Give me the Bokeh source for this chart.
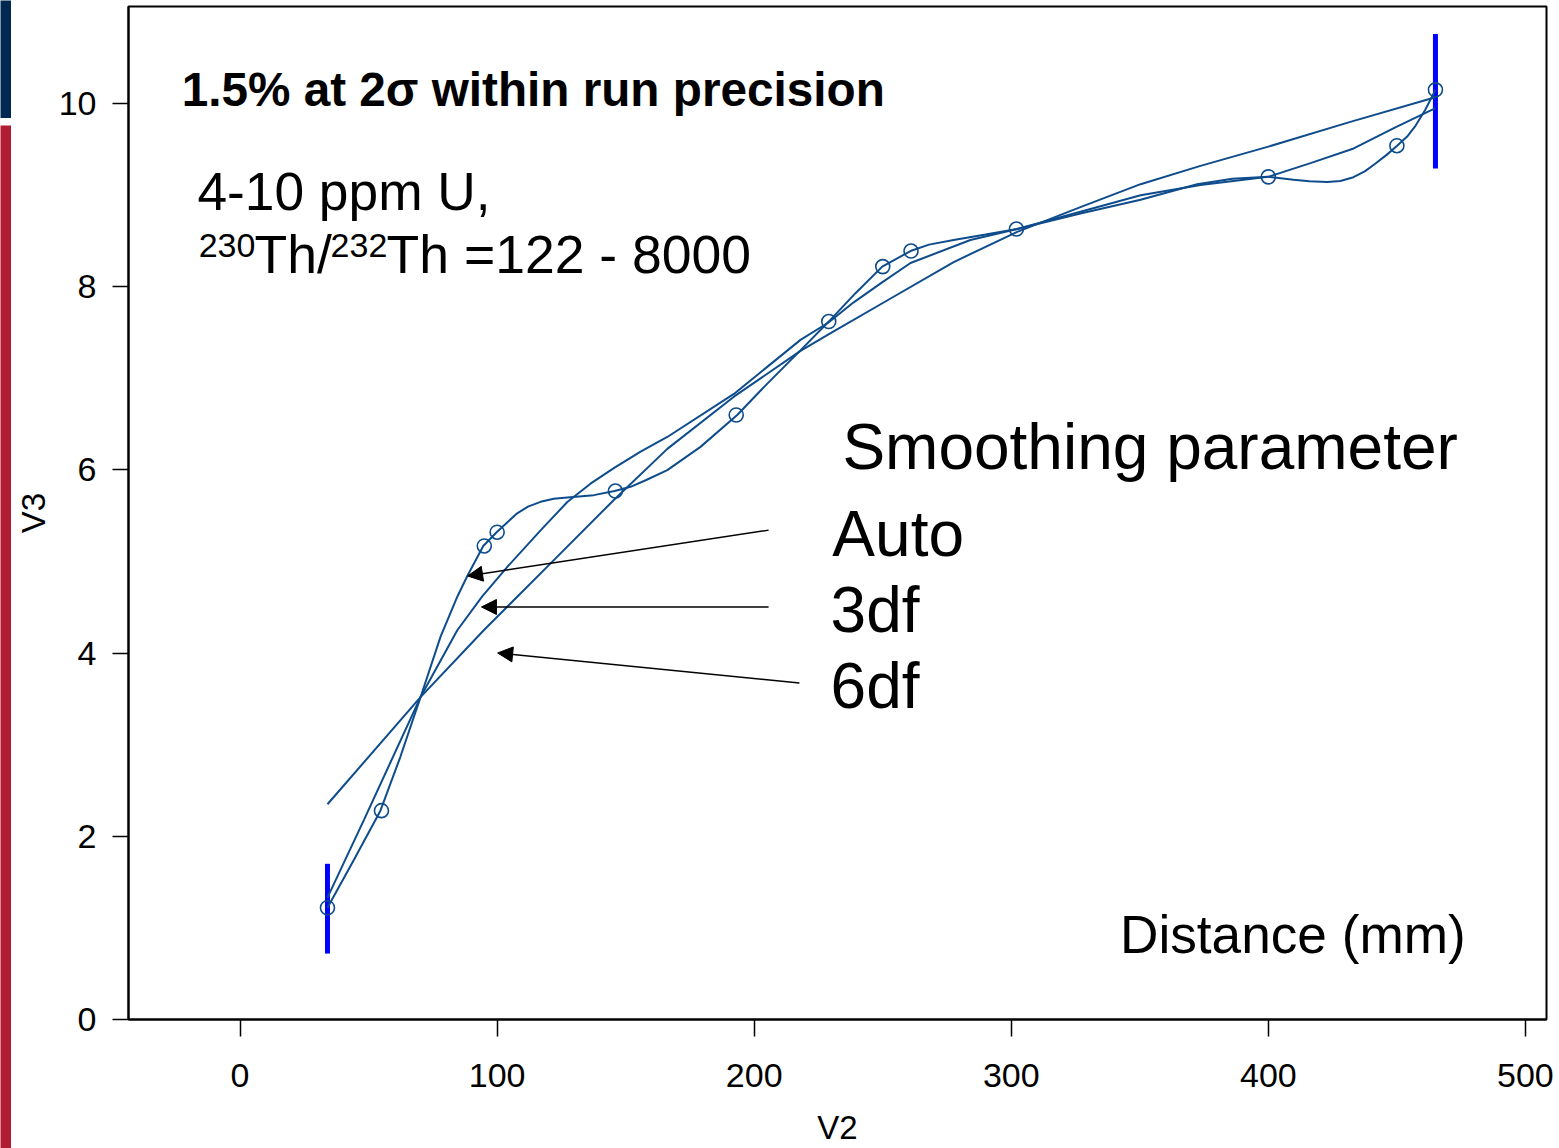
from bokeh.plotting import figure
from bokeh.models import Range1d, Label, Arrow, NormalHead, FixedTicker, Spacer
from bokeh.layouts import row, column
from bokeh.embed import file_html
from bokeh.resources import INLINE

# ---------------- data ----------------
pts_x = [34, 55, 95, 100, 146, 193, 229, 250, 261, 302, 400, 450, 465]
pts_y = [1.22, 2.28, 5.17, 5.32, 5.77, 6.60, 7.62, 8.22, 8.39, 8.63, 9.20, 9.54, 10.15]

auto_x = [34, 44.3, 54.6, 62.4, 70.2, 78.0, 84.5, 88.4, 94.6, 99.8, 104.0, 107.8, 112.0, 116.9,
          122.0, 127.3, 137.6, 145.7, 151.9, 158.0, 166.2, 179.1, 193.4, 205.1, 218.0, 229.0,
          239.4, 249.8, 260.8, 268.0, 277.6, 290.0, 302.3, 326.9, 350.3, 372.3, 386.0, 400.0,
          409.8, 416.0, 422.9, 428.0, 433.1, 437.5, 441.7, 446.0, 450.1, 454.0, 457.3, 461.0,
          465.0]
auto_y = [1.22, 1.745, 2.28, 2.871, 3.519, 4.18, 4.616, 4.842, 5.17, 5.32, 5.43, 5.526, 5.60, 5.652,
          5.685, 5.70, 5.725, 5.77, 5.816, 5.89, 5.998, 6.252, 6.60, 6.943, 7.306, 7.62,
          7.93, 8.22, 8.39, 8.46, 8.51, 8.57, 8.63, 8.80, 8.95, 9.12, 9.18, 9.20,
          9.168, 9.152, 9.145, 9.155, 9.196, 9.26, 9.346, 9.44, 9.54, 9.64, 9.76, 9.93,
          10.15]

df3_x = [34, 48.2, 70.2, 84.5, 94.2, 103.9, 116.9, 127.3, 136.3, 145.4, 155.8, 166.2, 192.1,
         218.0, 228.9, 238.7, 249.9, 260.8, 284.1, 302.3, 326.9, 350.3, 373.6, 400.0, 416.4,
         433.2, 449.4, 465.0]
df3_y = [1.33, 2.18, 3.52, 4.25, 4.62, 4.94, 5.34, 5.65, 5.85, 6.02, 6.20, 6.36, 6.83,
         7.42, 7.61, 7.83, 8.05, 8.26, 8.51, 8.63, 8.82, 9.00, 9.11, 9.20, 9.35,
         9.51, 9.74, 9.95]

df6_x = [34, 70.2, 94.8, 120.8, 145.3, 166.2, 192.1, 218.0, 228.9, 251.7, 277.6, 302.3,
         326.9, 350.3, 373.6, 400.0, 431.9, 465.0]
df6_y = [2.35, 3.52, 4.25, 4.98, 5.67, 6.23, 6.80, 7.30, 7.48, 7.85, 8.27, 8.60,
         8.87, 9.12, 9.32, 9.53, 9.80, 10.07]

err_x = [34, 465]
err_lo = [0.72, 9.29]
err_hi = [1.70, 10.76]

x_ticks = [0, 100, 200, 300, 400, 500]
y_ticks = [0, 2, 4, 6, 8, 10]

# ---------------- styles ----------------
FONT = "Liberation Sans"
CURVE = "#0E4C8C"
ERR = "#0000FF"
NAVY = "#002850"
RED = "#B21D33"

p = figure(width=1548, height=1148,
           x_range=Range1d(-43.4, 508.2), y_range=Range1d(0, 11.06),
           output_backend="svg", toolbar_location=None,
           min_border_left=117, min_border_right=13, min_border_top=6, min_border_bottom=128)
p.xgrid.visible = False
p.ygrid.visible = False
p.outline_line_color = "black"
p.outline_line_width = 2
p.background_fill_color = "white"
p.border_fill_color = "white"

p.xaxis.ticker = FixedTicker(ticks=x_ticks)
p.yaxis.ticker = FixedTicker(ticks=y_ticks)
for ax in (p.xaxis[0], p.yaxis[0]):
    ax.axis_line_color = "black"
    ax.axis_line_width = 2
    ax.major_tick_line_color = "black"
    ax.major_tick_line_width = 1.5
    ax.major_tick_in = 0
    ax.minor_tick_line_color = None
    ax.major_label_text_font = FONT
    ax.major_label_text_font_size = "34px"
    ax.major_label_text_color = "black"
    ax.axis_label_text_font = FONT
    ax.axis_label_text_font_size = "33px"
    ax.axis_label_text_font_style = "normal"
    ax.axis_label_text_color = "black"
p.xaxis.major_tick_out = 17
p.yaxis.major_tick_out = 16
p.xaxis.major_label_standoff = 27
p.yaxis.major_label_standoff = 16
p.xaxis.axis_label = "V2"
p.yaxis.axis_label = "V3"
p.xaxis.axis_label_standoff = 19
p.yaxis.axis_label_standoff = 4

# error bars
p.segment(x0=err_x, y0=err_lo, x1=err_x, y1=err_hi, line_color=ERR, line_width=5)

# curves
p.line(df6_x, df6_y, line_color=CURVE, line_width=2)
p.line(df3_x, df3_y, line_color=CURVE, line_width=2)
p.line(auto_x, auto_y, line_color=CURVE, line_width=2)

# points
p.scatter(pts_x, pts_y, marker="circle", size=14, fill_color=None,
          line_color=CURVE, line_width=1.6)

# annotations
def lab(x, y, text, size, bold=False):
    p.add_layout(Label(x=x, y=y, text=text, text_font=FONT, text_font_size=size,
                       text_font_style="bold" if bold else "normal",
                       text_color="black", text_baseline="alphabetic", text_align="left"))

lab(-22.7, 10.152, "1.5% at 2\u03c3 within run precision", "47.7px", bold=True)
lab(-16.6, 9.040, "4-10 ppm U,", "53.3px")
lab(-16.1, 8.45, "230", "34px")
lab(5.6, 8.353, "Th/", "53.5px")
lab(35.2, 8.45, "232", "34px")
lab(57.0, 8.353, "Th =122 - 8000", "53.5px")
lab(234.3, 6.25, "Smoothing parameter", "64px")
lab(230.4, 5.30, "Auto", "64px")
lab(229.7, 4.472, "3df", "64px")
lab(229.7, 3.643, "6df", "64px")
lab(342.3, 0.932, "Distance (mm)", "53.2px")

for xs, ys, xe, ye in [(205.6, 5.343, 88.5, 4.842),
                       (205.6, 4.504, 93.9, 4.504),
                       (217.6, 3.675, 100.2, 4.002)]:
    p.add_layout(Arrow(end=NormalHead(size=15, fill_color="black", line_color="black"),
                       x_start=xs, y_start=ys, x_end=xe, y_end=ye,
                       line_color="black", line_width=1.5))

# decorative slide bars on the left edge
def bar(h, color):
    f = figure(width=11, height=h, output_backend="svg", toolbar_location=None,
               min_border=0, x_range=Range1d(0, 1), y_range=Range1d(0, 1))
    f.axis.visible = False
    f.grid.visible = False
    f.outline_line_color = None
    f.background_fill_color = color
    f.border_fill_color = color
    return f

left = column(bar(118, NAVY), Spacer(width=11, height=7), bar(1023, RED), spacing=0)
layout = row(left, p, spacing=0)

open("out.html", "w").write(file_html(layout, INLINE))
